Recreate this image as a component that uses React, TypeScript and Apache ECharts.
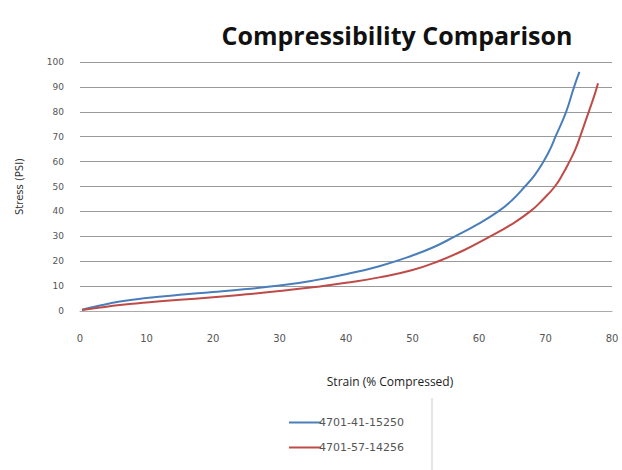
import React, { useEffect, useRef } from "react";
import * as echarts from "echarts";

const seriesNames = ["4701-41-15250", "4701-57-14256"];
const blueData: [number, number][] = [
  [0.3, 0.5], [3, 2.2], [6, 3.8], [10, 5.2], [15, 6.5], [20, 7.6], [25, 8.8], [30, 10.2],
  [35, 12.2], [40, 14.8], [45, 18], [50, 22.3], [53.3, 25.8], [56.4, 30], [59.7, 34.7],
  [62.9, 40], [65, 44.6], [66.9, 50], [68.4, 54.7], [69.7, 60], [70.7, 65], [71.5, 70],
  [73.1, 80], [74.3, 90], [75.1, 96],
];
const redData: [number, number][] = [
  [0.3, 0.4], [3, 1.4], [6, 2.4], [10, 3.4], [15, 4.5], [20, 5.5], [25, 6.7], [30, 8], [35, 9.5],
  [40, 11.3], [45, 13.5], [50, 16.5], [53.9, 20], [57.8, 24.5], [61.7, 30], [64.7, 34.5],
  [67.7, 40], [69.7, 45], [71.4, 50], [72.6, 55], [73.6, 60], [74.5, 65], [75.2, 70],
  [76.5, 80], [77.4, 87], [77.9, 91.5],
];

export default function App() {
  const ref = useRef<HTMLDivElement>(null);
  useEffect(() => {
    const chart = echarts.init(ref.current!, null, { renderer: "svg" });
    chart.setOption({
      animation: false,
      backgroundColor: "#ffffff",
      title: {
        text: "Compressibility Comparison",
        left: 392,
        top: 17,
        textAlign: "center",
        textStyle: { fontFamily: "Open Sans", fontWeight: "bold", fontSize: 25, color: "#111" },
      },
      grid: { left: 80, right: 10, top: 62, bottom: 159 },
      xAxis: {
        type: "value",
        min: 0,
        max: 80,
        interval: 10,
        name: "Strain (% Compressed)",
        nameLocation: "middle",
        nameGap: 64,
        nameTextStyle: { fontFamily: "Open Sans", fontSize: 12, color: "#222", padding: [0, 0, 0, 88] },
        axisLine: { show: true, lineStyle: { color: "#aaa" } },
        axisTick: { show: false },
        splitLine: { show: false },
        axisLabel: { fontFamily: "DejaVu Sans", fontSize: 10, color: "#555", margin: 22 },
      },
      yAxis: {
        type: "value",
        min: 0,
        max: 100,
        interval: 10,
        name: "Stress (PSI)",
        nameLocation: "middle",
        nameGap: 56,
        nameTextStyle: { fontFamily: "DejaVu Sans", fontSize: 10, color: "#333" },
        axisLine: { show: false },
        axisTick: { show: false },
        splitLine: { show: true, lineStyle: { color: "#9a9a9a", width: 1 } },
        axisLabel: { fontFamily: "DejaVu Sans", fontSize: 9, color: "#555", margin: 16 },
      },
      legend: {
        orient: "vertical",
        left: 284,
        top: 412,
        itemWidth: 32,
        itemHeight: 2,
        itemGap: 14,
        icon: "rect",
        textStyle: { fontFamily: "DejaVu Sans", fontSize: 11, color: "#555", padding: [0, 0, 0, -7] },
        data: seriesNames,
      },
      graphic: [
        {
          type: "line",
          shape: { x1: 432, y1: 398, x2: 432, y2: 470 },
          style: { stroke: "#ccc", lineWidth: 1 },
        },
      ],
      series: [
        {
          name: seriesNames[0],
          type: "line",
          smooth: 0.5,
          showSymbol: false,
          data: blueData,
          lineStyle: { color: "#4a7ebb", width: 2 },
          itemStyle: { color: "#4a7ebb" },
        },
        {
          name: seriesNames[1],
          type: "line",
          smooth: 0.5,
          showSymbol: false,
          data: redData,
          lineStyle: { color: "#be4b48", width: 2 },
          itemStyle: { color: "#be4b48" },
        },
      ],
    });
    return () => chart.dispose();
  }, []);
  return <div ref={ref} style={{ width: 622, height: 470, position: "absolute", left: 0, top: 0 }} />;
}
